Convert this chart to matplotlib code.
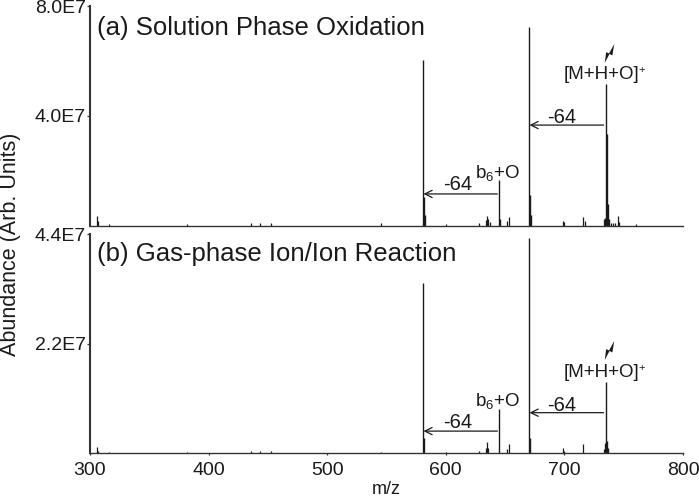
import numpy as np
import matplotlib
matplotlib.use("Agg")
import matplotlib.pyplot as plt
from matplotlib.path import Path

plt.rcParams['font.family'] = ['Liberation Sans', 'DejaVu Sans']
plt.rcParams['mathtext.fontset'] = 'custom'
plt.rcParams['mathtext.rm'] = 'Liberation Sans'
plt.rcParams['mathtext.default'] = 'regular'

# main peaks (m/z, abundance)
mz_a = [581, 581.8, 582.7, 645, 645.8, 670.4, 671.2, 672.0, 735.0, 735.8, 736.6, 737.4]
ab_a = [6.05e7, 1.05e7, 0.4e7, 1.65e7, 0.25e7, 7.25e7, 1.1e7, 0.4e7, 5.15e7, 3.35e7, 0.8e7, 0.25e7]
mz_b = [581, 581.8, 645, 670.4, 671.2, 735.0, 735.8, 736.6]
ab_b = [3.42e7, 0.3e7, 0.88e7, 4.32e7, 0.3e7, 1.43e7, 0.25e7, 0.1e7]

# small background peaks
small_mz_a = [306, 307, 316, 382, 436, 443, 453, 545, 600, 628, 634, 635, 636, 637, 652, 653, 699, 700, 716, 717,
              733, 734, 739, 741, 743, 745, 746, 760]
small_ab_a = [0.35e7, 0.15e7, 0.06e7, 0.06e7, 0.08e7, 0.08e7, 0.08e7, 0.08e7, 0.06e7, 0.08e7, 0.2e7, 0.35e7,
              0.25e7, 0.12e7, 0.18e7, 0.32e7, 0.18e7, 0.12e7, 0.3e7, 0.15e7, 0.25e7, 0.28e7, 0.08e7, 0.08e7,
              0.1e7, 0.33e7, 0.12e7, 0.04e7]
small_mz_b = [306, 307, 316, 382, 436, 443, 453, 545, 600, 628, 634, 635, 636, 652, 653, 699, 700, 716, 733, 734]
small_ab_b = [0.12e7, 0.05e7, 0.03e7, 0.03e7, 0.05e7, 0.04e7, 0.04e7, 0.03e7, 0.03e7, 0.04e7, 0.1e7, 0.22e7,
              0.1e7, 0.08e7, 0.18e7, 0.1e7, 0.05e7, 0.18e7, 0.08e7, 0.2e7]

ymax_a, ymax_b = 8.0e7, 4.4e7
xticks = [300, 400, 500, 600, 700, 800]
ink = "#1a1a1a"
axis_ink = "#333333"

# lightning bolt used as a marker
bolt = Path([(-0.5, -1), (-0.35, 0.15), (-0.05, 0.0), (0.5, 1), (0.3, -0.2), (0.0, -0.05), (-0.5, -1)])

W, H = 699, 498
fig = plt.figure(figsize=(W/100, H/100), dpi=100)
ax1 = fig.add_axes([90/W, 1-225.5/H, 593/W, 219.5/H])
ax2 = fig.add_axes([90/W, 1-453/H, 593/W, 219/H])

panels = [(ax1, mz_a, ab_a, small_mz_a, small_ab_a, ymax_a, ["4.0E7", "8.0E7"]),
          (ax2, mz_b, ab_b, small_mz_b, small_ab_b, ymax_b, ["2.2E7", "4.4E7"])]
for ax, mz, ab, smz, sab, ymax, labels in panels:
    ax.vlines(mz, 0, ab, color=ink, lw=1.0)
    ax.vlines(smz, 0, sab, color=ink, lw=0.9)
    ax.set_xlim(300, 800)
    ax.set_ylim(0, ymax)
    ax.set_yticks([ymax/2, ymax], labels)
    for s in ("top", "right"):
        ax.spines[s].set_visible(False)
    ax.spines["left"].set_linewidth(1.5)
    ax.spines["bottom"].set_linewidth(1.0)
    for s in ("left", "bottom"):
        ax.spines[s].set_color(axis_ink)
    ax.tick_params(axis="y", length=2.5, width=0.9, pad=0.5, labelsize=14, color=axis_ink, labelcolor=ink)
    ax.patch.set_alpha(0)

ax1.set_xticks([])
ax2.set_xticks(xticks)
ax2.tick_params(axis="x", length=1.5, width=0.9, pad=5, labelsize=14, color=axis_ink, labelcolor=ink)
ax2.set_xlabel("m/z", fontsize=13, color=ink, labelpad=1.5)
fig.text(11/W, 1-244/H, "Abundance (Arb. Units)", rotation=90, fontsize=15.5,
         ha="center", va="center", color=ink)

fig.text(97/W, 1-28/H, "(a) Solution Phase Oxidation", fontsize=18.5, va="center", color=ink)
fig.text(97/W, 1-254/H, "(b) Gas-phase Ion/Ion Reaction", fontsize=18.5, va="center", color=ink)

arrow = dict(arrowstyle="->", color=ink, lw=0.9, shrinkA=0, shrinkB=0, mutation_scale=13)
kw = dict(fontsize=14.5, ha="center", va="center", color=ink)
kw_small = dict(kw, fontsize=13.5)
kw_plus = dict(fontsize=8, ha="center", va="center", color=ink)

# annotations, positions in data units
ax1.annotate("", xy=(670.6, 3.66e7), xytext=(733, 3.66e7), arrowprops=arrow)
ax1.text(698, 3.95e7, "-64", **kw)
ax1.annotate("", xy=(581.2, 1.15e7), xytext=(643.5, 1.15e7), arrowprops=arrow)
ax1.text(610, 1.48e7, "-64", **kw)
ax1.text(731, 5.49e7, "[M+H+O]", **kw_small)
ax1.text(765, 5.66e7, "+", **kw_plus)
ax1.text(644, 1.92e7, "b$_{6}$+O", **kw_small)
ax1.plot([738], [6.3e7], marker=bolt, ms=13.7, color=ink, mew=0)

ax2.annotate("", xy=(670.6, 0.81e7), xytext=(733, 0.81e7), arrowprops=arrow)
ax2.text(698, 0.96e7, "-64", **kw)
ax2.annotate("", xy=(581.2, 0.44e7), xytext=(643.5, 0.44e7), arrowprops=arrow)
ax2.text(610, 0.62e7, "-64", **kw)
ax2.text(731, 1.62e7, "[M+H+O]", **kw_small)
ax2.text(765, 1.71e7, "+", **kw_plus)
ax2.text(644, 1.04e7, "b$_{6}$+O", **kw_small)
ax2.plot([738], [2.06e7], marker=bolt, ms=13.7, color=ink, mew=0)

fig.savefig("out.png", dpi=100)
